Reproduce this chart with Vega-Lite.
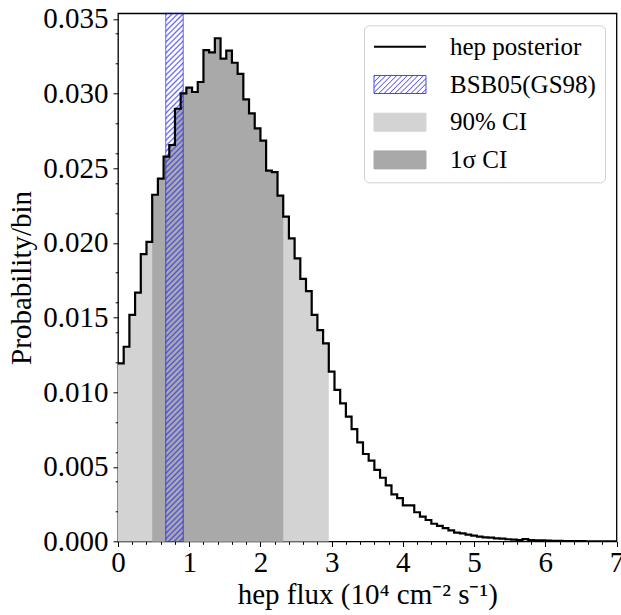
{
  "$schema": "https://vega.github.io/schema/vega-lite/v6.json",
  "width": 498.5,
  "height": 528.2,
  "autosize": {"type": "none"},
  "padding": {"left": 118, "top": 13.3, "right": 4.5, "bottom": 73.5},
  "background": "white",
  "config": {
    "view": {"stroke": "black", "strokeWidth": 1.3},
    "font": "Liberation Serif",
    "axis": {
      "labelFont": "Liberation Serif",
      "titleFont": "Liberation Serif",
      "labelColor": "black",
      "titleColor": "black",
      "tickColor": "black",
      "titleFontWeight": "normal",
      "domain": false,
      "grid": false,
      "labelFlush": false,
      "tickWidth": 1,
      "tickSize": 5
    }
  },
  "resolve": {"axis": {"x": "independent", "y": "independent"}},
  "datasets": {
    "hist": [
      {"x": 0, "p": 0.01193}, {"x": 0.08, "p": 0.01304}, {"x": 0.16, "p": 0.01517}, {"x": 0.24, "p": 0.01666},
      {"x": 0.32, "p": 0.01925}, {"x": 0.4, "p": 0.02006}, {"x": 0.48, "p": 0.02322}, {"x": 0.56, "p": 0.0243},
      {"x": 0.64, "p": 0.02577}, {"x": 0.72, "p": 0.02655}, {"x": 0.8, "p": 0.02898}, {"x": 0.88, "p": 0.03001},
      {"x": 0.96, "p": 0.03039}, {"x": 1.04, "p": 0.0301}, {"x": 1.12, "p": 0.03077}, {"x": 1.2, "p": 0.03291},
      {"x": 1.28, "p": 0.03276}, {"x": 1.36, "p": 0.0337}, {"x": 1.44, "p": 0.03233}, {"x": 1.52, "p": 0.03287},
      {"x": 1.6, "p": 0.03206}, {"x": 1.68, "p": 0.03131}, {"x": 1.76, "p": 0.02961}, {"x": 1.84, "p": 0.02867},
      {"x": 1.92, "p": 0.02767}, {"x": 2, "p": 0.02684}, {"x": 2.08, "p": 0.02483}, {"x": 2.16, "p": 0.02474},
      {"x": 2.24, "p": 0.02316}, {"x": 2.32, "p": 0.02175}, {"x": 2.4, "p": 0.0203}, {"x": 2.48, "p": 0.01896},
      {"x": 2.56, "p": 0.01758}, {"x": 2.64, "p": 0.01677}, {"x": 2.72, "p": 0.01517}, {"x": 2.8, "p": 0.01416},
      {"x": 2.88, "p": 0.01327}, {"x": 2.96, "p": 0.01137}, {"x": 3.04, "p": 0.01015}, {"x": 3.12, "p": 0.00925},
      {"x": 3.2, "p": 0.00836}, {"x": 3.28, "p": 0.00753}, {"x": 3.36, "p": 0.00664}, {"x": 3.44, "p": 0.00586},
      {"x": 3.52, "p": 0.00541}, {"x": 3.6, "p": 0.00479}, {"x": 3.68, "p": 0.00427}, {"x": 3.76, "p": 0.00376},
      {"x": 3.84, "p": 0.00316}, {"x": 3.92, "p": 0.00291}, {"x": 4, "p": 0.00242}, {"x": 4.08, "p": 0.00242},
      {"x": 4.16, "p": 0.00196}, {"x": 4.24, "p": 0.00166}, {"x": 4.32, "p": 0.00144}, {"x": 4.4, "p": 0.00119},
      {"x": 4.48, "p": 0.00104}, {"x": 4.56, "p": 0.0009}, {"x": 4.64, "p": 0.00075}, {"x": 4.72, "p": 0.00059},
      {"x": 4.8, "p": 0.00055}, {"x": 4.88, "p": 0.00046}, {"x": 4.96, "p": 0.0004}, {"x": 5.04, "p": 0.00032},
      {"x": 5.12, "p": 0.00028}, {"x": 5.2, "p": 0.00026}, {"x": 5.28, "p": 0.00021}, {"x": 5.36, "p": 0.00019},
      {"x": 5.44, "p": 0.00015}, {"x": 5.52, "p": 0.00012}, {"x": 5.6, "p": 0.0001}, {"x": 5.68, "p": 0.00016},
      {"x": 5.76, "p": 0.0001}, {"x": 5.84, "p": 0.00008}, {"x": 5.92, "p": 0.00007}, {"x": 6, "p": 0.00006},
      {"x": 6.08, "p": 0.00005}, {"x": 6.16, "p": 0.00004}, {"x": 6.24, "p": 0.00003}, {"x": 6.32, "p": 0.00003},
      {"x": 6.4, "p": 0.00002}, {"x": 6.48, "p": 0.00002}, {"x": 6.56, "p": 0.00001}, {"x": 6.64, "p": 0.00001},
      {"x": 6.72, "p": 0.00001}, {"x": 6.8, "p": 0.00001}, {"x": 6.88, "p": 0.000005}, {"x": 6.96, "p": 0.000005},
      {"x": 7.04, "p": 0.000005}
    ],
    "band": [{"x": 0.67, "x2": 0.916}]
  },
  "layer": [
    {
      "data": {"name": "hist"},
      "transform": [{"filter": "datum.x <= 2.96"}],
      "mark": {"type": "area", "interpolate": "step-after", "color": "#d3d3d3"},
      "encoding": {
        "x": {
          "field": "x", "type": "quantitative",
          "scale": {"domain": [0, 7], "nice": false, "zero": false},
          "axis": {
            "title": "hep flux (10⁴ cm⁻² s⁻¹)",
            "orient": "bottom",
            "values": [0, 1, 2, 3, 4, 5, 6, 7],
            "format": "d",
            "labelOverlap": false,
            "labelBound": false,
            "labelFontSize": 29,
            "titleFontSize": 29,
            "labelPadding": 2,
            "titlePadding": 3
          }
        },
        "y": {
          "field": "p", "type": "quantitative",
          "scale": {"domain": [0, 0.03537], "nice": false},
          "axis": {
            "title": "Probability/bin",
            "orient": "left",
            "values": [0, 0.005, 0.01, 0.015, 0.02, 0.025, 0.03, 0.035],
            "format": ".3f",
            "labelOverlap": false,
            "labelBound": false,
            "labelFontSize": 29,
            "titleFontSize": 29,
            "labelPadding": 5,
            "titlePadding": 6
          }
        }
      }
    },
    {
      "data": {"name": "hist"},
      "transform": [{"filter": "datum.x >= 0.48 && datum.x <= 2.32"}],
      "mark": {"type": "area", "interpolate": "step-after", "color": "#a9a9a9"},
      "encoding": {
        "x": {"field": "x", "type": "quantitative", "axis": null},
        "y": {"field": "p", "type": "quantitative", "axis": null}
      }
    },
    {
      "data": {"name": "band"},
      "mark": {
        "type": "rect",
        "stroke": "#0000ff",
        "strokeOpacity": 0.5,
        "strokeWidth": 1.2,
        "fill": {"gradient": "linear", "x1": 0, "y1": 0, "x2": 0.0342, "y2": 1.032, "stops": [
{"offset":0,"color":"rgba(0,0,255,0)"},{"offset":0.003,"color":"rgba(50,50,255,0.75)"},{"offset":0.006,"color":"rgba(0,0,255,0)"},
{"offset":0.01,"color":"rgba(0,0,255,0)"},{"offset":0.013,"color":"rgba(50,50,255,0.75)"},{"offset":0.016,"color":"rgba(0,0,255,0)"},
{"offset":0.02,"color":"rgba(0,0,255,0)"},{"offset":0.023,"color":"rgba(50,50,255,0.75)"},{"offset":0.026,"color":"rgba(0,0,255,0)"},
{"offset":0.03,"color":"rgba(0,0,255,0)"},{"offset":0.033,"color":"rgba(50,50,255,0.75)"},{"offset":0.036,"color":"rgba(0,0,255,0)"},
{"offset":0.04,"color":"rgba(0,0,255,0)"},{"offset":0.043,"color":"rgba(50,50,255,0.75)"},{"offset":0.046,"color":"rgba(0,0,255,0)"},
{"offset":0.05,"color":"rgba(0,0,255,0)"},{"offset":0.053,"color":"rgba(50,50,255,0.75)"},{"offset":0.056,"color":"rgba(0,0,255,0)"},
{"offset":0.06,"color":"rgba(0,0,255,0)"},{"offset":0.063,"color":"rgba(50,50,255,0.75)"},{"offset":0.066,"color":"rgba(0,0,255,0)"},
{"offset":0.07,"color":"rgba(0,0,255,0)"},{"offset":0.073,"color":"rgba(50,50,255,0.75)"},{"offset":0.076,"color":"rgba(0,0,255,0)"},
{"offset":0.08,"color":"rgba(0,0,255,0)"},{"offset":0.083,"color":"rgba(50,50,255,0.75)"},{"offset":0.086,"color":"rgba(0,0,255,0)"},
{"offset":0.09,"color":"rgba(0,0,255,0)"},{"offset":0.093,"color":"rgba(50,50,255,0.75)"},{"offset":0.096,"color":"rgba(0,0,255,0)"},
{"offset":0.1,"color":"rgba(0,0,255,0)"},{"offset":0.103,"color":"rgba(50,50,255,0.75)"},{"offset":0.106,"color":"rgba(0,0,255,0)"},
{"offset":0.11,"color":"rgba(0,0,255,0)"},{"offset":0.113,"color":"rgba(50,50,255,0.75)"},{"offset":0.116,"color":"rgba(0,0,255,0)"},
{"offset":0.12,"color":"rgba(0,0,255,0)"},{"offset":0.123,"color":"rgba(50,50,255,0.75)"},{"offset":0.126,"color":"rgba(0,0,255,0)"},
{"offset":0.13,"color":"rgba(0,0,255,0)"},{"offset":0.133,"color":"rgba(50,50,255,0.75)"},{"offset":0.136,"color":"rgba(0,0,255,0)"},
{"offset":0.14,"color":"rgba(0,0,255,0)"},{"offset":0.143,"color":"rgba(50,50,255,0.75)"},{"offset":0.146,"color":"rgba(0,0,255,0)"},
{"offset":0.15,"color":"rgba(0,0,255,0)"},{"offset":0.153,"color":"rgba(50,50,255,0.75)"},{"offset":0.156,"color":"rgba(0,0,255,0)"},
{"offset":0.16,"color":"rgba(0,0,255,0)"},{"offset":0.163,"color":"rgba(50,50,255,0.75)"},{"offset":0.166,"color":"rgba(0,0,255,0)"},
{"offset":0.17,"color":"rgba(0,0,255,0)"},{"offset":0.173,"color":"rgba(50,50,255,0.75)"},{"offset":0.176,"color":"rgba(0,0,255,0)"},
{"offset":0.18,"color":"rgba(0,0,255,0)"},{"offset":0.183,"color":"rgba(50,50,255,0.75)"},{"offset":0.186,"color":"rgba(0,0,255,0)"},
{"offset":0.19,"color":"rgba(0,0,255,0)"},{"offset":0.193,"color":"rgba(50,50,255,0.75)"},{"offset":0.196,"color":"rgba(0,0,255,0)"},
{"offset":0.2,"color":"rgba(0,0,255,0)"},{"offset":0.203,"color":"rgba(50,50,255,0.75)"},{"offset":0.206,"color":"rgba(0,0,255,0)"},
{"offset":0.21,"color":"rgba(0,0,255,0)"},{"offset":0.213,"color":"rgba(50,50,255,0.75)"},{"offset":0.216,"color":"rgba(0,0,255,0)"},
{"offset":0.22,"color":"rgba(0,0,255,0)"},{"offset":0.223,"color":"rgba(50,50,255,0.75)"},{"offset":0.226,"color":"rgba(0,0,255,0)"},
{"offset":0.23,"color":"rgba(0,0,255,0)"},{"offset":0.233,"color":"rgba(50,50,255,0.75)"},{"offset":0.236,"color":"rgba(0,0,255,0)"},
{"offset":0.24,"color":"rgba(0,0,255,0)"},{"offset":0.243,"color":"rgba(50,50,255,0.75)"},{"offset":0.246,"color":"rgba(0,0,255,0)"},
{"offset":0.25,"color":"rgba(0,0,255,0)"},{"offset":0.253,"color":"rgba(50,50,255,0.75)"},{"offset":0.256,"color":"rgba(0,0,255,0)"},
{"offset":0.26,"color":"rgba(0,0,255,0)"},{"offset":0.263,"color":"rgba(50,50,255,0.75)"},{"offset":0.266,"color":"rgba(0,0,255,0)"},
{"offset":0.27,"color":"rgba(0,0,255,0)"},{"offset":0.273,"color":"rgba(50,50,255,0.75)"},{"offset":0.276,"color":"rgba(0,0,255,0)"},
{"offset":0.28,"color":"rgba(0,0,255,0)"},{"offset":0.283,"color":"rgba(50,50,255,0.75)"},{"offset":0.286,"color":"rgba(0,0,255,0)"},
{"offset":0.29,"color":"rgba(0,0,255,0)"},{"offset":0.293,"color":"rgba(50,50,255,0.75)"},{"offset":0.296,"color":"rgba(0,0,255,0)"},
{"offset":0.3,"color":"rgba(0,0,255,0)"},{"offset":0.303,"color":"rgba(50,50,255,0.75)"},{"offset":0.306,"color":"rgba(0,0,255,0)"},
{"offset":0.31,"color":"rgba(0,0,255,0)"},{"offset":0.313,"color":"rgba(50,50,255,0.75)"},{"offset":0.316,"color":"rgba(0,0,255,0)"},
{"offset":0.32,"color":"rgba(0,0,255,0)"},{"offset":0.323,"color":"rgba(50,50,255,0.75)"},{"offset":0.326,"color":"rgba(0,0,255,0)"},
{"offset":0.33,"color":"rgba(0,0,255,0)"},{"offset":0.333,"color":"rgba(50,50,255,0.75)"},{"offset":0.336,"color":"rgba(0,0,255,0)"},
{"offset":0.34,"color":"rgba(0,0,255,0)"},{"offset":0.343,"color":"rgba(50,50,255,0.75)"},{"offset":0.346,"color":"rgba(0,0,255,0)"},
{"offset":0.35,"color":"rgba(0,0,255,0)"},{"offset":0.353,"color":"rgba(50,50,255,0.75)"},{"offset":0.356,"color":"rgba(0,0,255,0)"},
{"offset":0.36,"color":"rgba(0,0,255,0)"},{"offset":0.363,"color":"rgba(50,50,255,0.75)"},{"offset":0.366,"color":"rgba(0,0,255,0)"},
{"offset":0.37,"color":"rgba(0,0,255,0)"},{"offset":0.373,"color":"rgba(50,50,255,0.75)"},{"offset":0.376,"color":"rgba(0,0,255,0)"},
{"offset":0.38,"color":"rgba(0,0,255,0)"},{"offset":0.383,"color":"rgba(50,50,255,0.75)"},{"offset":0.386,"color":"rgba(0,0,255,0)"},
{"offset":0.39,"color":"rgba(0,0,255,0)"},{"offset":0.393,"color":"rgba(50,50,255,0.75)"},{"offset":0.396,"color":"rgba(0,0,255,0)"},
{"offset":0.4,"color":"rgba(0,0,255,0)"},{"offset":0.403,"color":"rgba(50,50,255,0.75)"},{"offset":0.406,"color":"rgba(0,0,255,0)"},
{"offset":0.41,"color":"rgba(0,0,255,0)"},{"offset":0.413,"color":"rgba(50,50,255,0.75)"},{"offset":0.416,"color":"rgba(0,0,255,0)"},
{"offset":0.42,"color":"rgba(0,0,255,0)"},{"offset":0.423,"color":"rgba(50,50,255,0.75)"},{"offset":0.426,"color":"rgba(0,0,255,0)"},
{"offset":0.43,"color":"rgba(0,0,255,0)"},{"offset":0.433,"color":"rgba(50,50,255,0.75)"},{"offset":0.436,"color":"rgba(0,0,255,0)"},
{"offset":0.44,"color":"rgba(0,0,255,0)"},{"offset":0.443,"color":"rgba(50,50,255,0.75)"},{"offset":0.446,"color":"rgba(0,0,255,0)"},
{"offset":0.45,"color":"rgba(0,0,255,0)"},{"offset":0.453,"color":"rgba(50,50,255,0.75)"},{"offset":0.456,"color":"rgba(0,0,255,0)"},
{"offset":0.46,"color":"rgba(0,0,255,0)"},{"offset":0.463,"color":"rgba(50,50,255,0.75)"},{"offset":0.466,"color":"rgba(0,0,255,0)"},
{"offset":0.47,"color":"rgba(0,0,255,0)"},{"offset":0.473,"color":"rgba(50,50,255,0.75)"},{"offset":0.476,"color":"rgba(0,0,255,0)"},
{"offset":0.48,"color":"rgba(0,0,255,0)"},{"offset":0.483,"color":"rgba(50,50,255,0.75)"},{"offset":0.486,"color":"rgba(0,0,255,0)"},
{"offset":0.49,"color":"rgba(0,0,255,0)"},{"offset":0.493,"color":"rgba(50,50,255,0.75)"},{"offset":0.496,"color":"rgba(0,0,255,0)"},
{"offset":0.5,"color":"rgba(0,0,255,0)"},{"offset":0.503,"color":"rgba(50,50,255,0.75)"},{"offset":0.506,"color":"rgba(0,0,255,0)"},
{"offset":0.51,"color":"rgba(0,0,255,0)"},{"offset":0.513,"color":"rgba(50,50,255,0.75)"},{"offset":0.516,"color":"rgba(0,0,255,0)"},
{"offset":0.52,"color":"rgba(0,0,255,0)"},{"offset":0.523,"color":"rgba(50,50,255,0.75)"},{"offset":0.526,"color":"rgba(0,0,255,0)"},
{"offset":0.53,"color":"rgba(0,0,255,0)"},{"offset":0.533,"color":"rgba(50,50,255,0.75)"},{"offset":0.536,"color":"rgba(0,0,255,0)"},
{"offset":0.54,"color":"rgba(0,0,255,0)"},{"offset":0.543,"color":"rgba(50,50,255,0.75)"},{"offset":0.546,"color":"rgba(0,0,255,0)"},
{"offset":0.55,"color":"rgba(0,0,255,0)"},{"offset":0.553,"color":"rgba(50,50,255,0.75)"},{"offset":0.556,"color":"rgba(0,0,255,0)"},
{"offset":0.56,"color":"rgba(0,0,255,0)"},{"offset":0.563,"color":"rgba(50,50,255,0.75)"},{"offset":0.566,"color":"rgba(0,0,255,0)"},
{"offset":0.57,"color":"rgba(0,0,255,0)"},{"offset":0.573,"color":"rgba(50,50,255,0.75)"},{"offset":0.576,"color":"rgba(0,0,255,0)"},
{"offset":0.58,"color":"rgba(0,0,255,0)"},{"offset":0.583,"color":"rgba(50,50,255,0.75)"},{"offset":0.586,"color":"rgba(0,0,255,0)"},
{"offset":0.59,"color":"rgba(0,0,255,0)"},{"offset":0.593,"color":"rgba(50,50,255,0.75)"},{"offset":0.596,"color":"rgba(0,0,255,0)"},
{"offset":0.6,"color":"rgba(0,0,255,0)"},{"offset":0.603,"color":"rgba(50,50,255,0.75)"},{"offset":0.606,"color":"rgba(0,0,255,0)"},
{"offset":0.61,"color":"rgba(0,0,255,0)"},{"offset":0.613,"color":"rgba(50,50,255,0.75)"},{"offset":0.616,"color":"rgba(0,0,255,0)"},
{"offset":0.62,"color":"rgba(0,0,255,0)"},{"offset":0.623,"color":"rgba(50,50,255,0.75)"},{"offset":0.626,"color":"rgba(0,0,255,0)"},
{"offset":0.63,"color":"rgba(0,0,255,0)"},{"offset":0.633,"color":"rgba(50,50,255,0.75)"},{"offset":0.636,"color":"rgba(0,0,255,0)"},
{"offset":0.64,"color":"rgba(0,0,255,0)"},{"offset":0.643,"color":"rgba(50,50,255,0.75)"},{"offset":0.646,"color":"rgba(0,0,255,0)"},
{"offset":0.65,"color":"rgba(0,0,255,0)"},{"offset":0.653,"color":"rgba(50,50,255,0.75)"},{"offset":0.656,"color":"rgba(0,0,255,0)"},
{"offset":0.66,"color":"rgba(0,0,255,0)"},{"offset":0.663,"color":"rgba(50,50,255,0.75)"},{"offset":0.666,"color":"rgba(0,0,255,0)"},
{"offset":0.67,"color":"rgba(0,0,255,0)"},{"offset":0.673,"color":"rgba(50,50,255,0.75)"},{"offset":0.676,"color":"rgba(0,0,255,0)"},
{"offset":0.68,"color":"rgba(0,0,255,0)"},{"offset":0.683,"color":"rgba(50,50,255,0.75)"},{"offset":0.686,"color":"rgba(0,0,255,0)"},
{"offset":0.69,"color":"rgba(0,0,255,0)"},{"offset":0.693,"color":"rgba(50,50,255,0.75)"},{"offset":0.696,"color":"rgba(0,0,255,0)"},
{"offset":0.7,"color":"rgba(0,0,255,0)"},{"offset":0.703,"color":"rgba(50,50,255,0.75)"},{"offset":0.706,"color":"rgba(0,0,255,0)"},
{"offset":0.71,"color":"rgba(0,0,255,0)"},{"offset":0.713,"color":"rgba(50,50,255,0.75)"},{"offset":0.716,"color":"rgba(0,0,255,0)"},
{"offset":0.72,"color":"rgba(0,0,255,0)"},{"offset":0.723,"color":"rgba(50,50,255,0.75)"},{"offset":0.726,"color":"rgba(0,0,255,0)"},
{"offset":0.73,"color":"rgba(0,0,255,0)"},{"offset":0.733,"color":"rgba(50,50,255,0.75)"},{"offset":0.736,"color":"rgba(0,0,255,0)"},
{"offset":0.74,"color":"rgba(0,0,255,0)"},{"offset":0.743,"color":"rgba(50,50,255,0.75)"},{"offset":0.746,"color":"rgba(0,0,255,0)"},
{"offset":0.75,"color":"rgba(0,0,255,0)"},{"offset":0.753,"color":"rgba(50,50,255,0.75)"},{"offset":0.756,"color":"rgba(0,0,255,0)"},
{"offset":0.76,"color":"rgba(0,0,255,0)"},{"offset":0.763,"color":"rgba(50,50,255,0.75)"},{"offset":0.766,"color":"rgba(0,0,255,0)"},
{"offset":0.77,"color":"rgba(0,0,255,0)"},{"offset":0.773,"color":"rgba(50,50,255,0.75)"},{"offset":0.776,"color":"rgba(0,0,255,0)"},
{"offset":0.78,"color":"rgba(0,0,255,0)"},{"offset":0.783,"color":"rgba(50,50,255,0.75)"},{"offset":0.786,"color":"rgba(0,0,255,0)"},
{"offset":0.79,"color":"rgba(0,0,255,0)"},{"offset":0.793,"color":"rgba(50,50,255,0.75)"},{"offset":0.796,"color":"rgba(0,0,255,0)"},
{"offset":0.8,"color":"rgba(0,0,255,0)"},{"offset":0.803,"color":"rgba(50,50,255,0.75)"},{"offset":0.806,"color":"rgba(0,0,255,0)"},
{"offset":0.81,"color":"rgba(0,0,255,0)"},{"offset":0.813,"color":"rgba(50,50,255,0.75)"},{"offset":0.816,"color":"rgba(0,0,255,0)"},
{"offset":0.82,"color":"rgba(0,0,255,0)"},{"offset":0.823,"color":"rgba(50,50,255,0.75)"},{"offset":0.826,"color":"rgba(0,0,255,0)"},
{"offset":0.83,"color":"rgba(0,0,255,0)"},{"offset":0.833,"color":"rgba(50,50,255,0.75)"},{"offset":0.836,"color":"rgba(0,0,255,0)"},
{"offset":0.84,"color":"rgba(0,0,255,0)"},{"offset":0.843,"color":"rgba(50,50,255,0.75)"},{"offset":0.846,"color":"rgba(0,0,255,0)"},
{"offset":0.85,"color":"rgba(0,0,255,0)"},{"offset":0.853,"color":"rgba(50,50,255,0.75)"},{"offset":0.856,"color":"rgba(0,0,255,0)"},
{"offset":0.86,"color":"rgba(0,0,255,0)"},{"offset":0.863,"color":"rgba(50,50,255,0.75)"},{"offset":0.866,"color":"rgba(0,0,255,0)"},
{"offset":0.87,"color":"rgba(0,0,255,0)"},{"offset":0.873,"color":"rgba(50,50,255,0.75)"},{"offset":0.876,"color":"rgba(0,0,255,0)"},
{"offset":0.88,"color":"rgba(0,0,255,0)"},{"offset":0.883,"color":"rgba(50,50,255,0.75)"},{"offset":0.886,"color":"rgba(0,0,255,0)"},
{"offset":0.89,"color":"rgba(0,0,255,0)"},{"offset":0.893,"color":"rgba(50,50,255,0.75)"},{"offset":0.896,"color":"rgba(0,0,255,0)"},
{"offset":0.9,"color":"rgba(0,0,255,0)"},{"offset":0.903,"color":"rgba(50,50,255,0.75)"},{"offset":0.906,"color":"rgba(0,0,255,0)"},
{"offset":0.91,"color":"rgba(0,0,255,0)"},{"offset":0.913,"color":"rgba(50,50,255,0.75)"},{"offset":0.916,"color":"rgba(0,0,255,0)"},
{"offset":0.92,"color":"rgba(0,0,255,0)"},{"offset":0.923,"color":"rgba(50,50,255,0.75)"},{"offset":0.926,"color":"rgba(0,0,255,0)"},
{"offset":0.93,"color":"rgba(0,0,255,0)"},{"offset":0.933,"color":"rgba(50,50,255,0.75)"},{"offset":0.936,"color":"rgba(0,0,255,0)"},
{"offset":0.94,"color":"rgba(0,0,255,0)"},{"offset":0.943,"color":"rgba(50,50,255,0.75)"},{"offset":0.946,"color":"rgba(0,0,255,0)"},
{"offset":0.95,"color":"rgba(0,0,255,0)"},{"offset":0.953,"color":"rgba(50,50,255,0.75)"},{"offset":0.956,"color":"rgba(0,0,255,0)"},
{"offset":0.96,"color":"rgba(0,0,255,0)"},{"offset":0.963,"color":"rgba(50,50,255,0.75)"},{"offset":0.966,"color":"rgba(0,0,255,0)"},
{"offset":0.97,"color":"rgba(0,0,255,0)"},{"offset":0.973,"color":"rgba(50,50,255,0.75)"},{"offset":0.976,"color":"rgba(0,0,255,0)"},
{"offset":0.98,"color":"rgba(0,0,255,0)"},{"offset":0.983,"color":"rgba(50,50,255,0.75)"},{"offset":0.986,"color":"rgba(0,0,255,0)"},
{"offset":0.99,"color":"rgba(0,0,255,0)"},{"offset":0.993,"color":"rgba(50,50,255,0.75)"},{"offset":0.996,"color":"rgba(0,0,255,0)"},
{"offset":1,"color":"rgba(0,0,255,0)"}
        ]}
      },
      "encoding": {
        "x": {"field": "x", "type": "quantitative", "axis": null},
        "x2": {"field": "x2"}
      }
    },
    {
      "data": {"name": "hist"},
      "mark": {"type": "line", "interpolate": "step-after", "strokeWidth": 2.2, "clip": true},
      "encoding": {
        "x": {"field": "x", "type": "quantitative", "axis": null},
        "y": {"field": "p", "type": "quantitative", "axis": null},
        "color": {
          "datum": "hep posterior",
          "type": "nominal",
          "scale": {
            "domain": ["hep posterior", "BSB05(GS98)", "90% CI", "1σ CI"],
            "range": ["black", "#4444ff", "#d3d3d3", "#a9a9a9"]
          },
          "legend": {
            "title": null,
            "orient": "top-right",
            "offset": 12,
            "padding": 9,
            "strokeColor": "#d0d0d0",
            "fillColor": "rgba(255,255,255,0.85)",
            "cornerRadius": 5,
            "labelFont": "Liberation Serif",
            "labelFontSize": 25,
            "labelColor": "black",
            "labelLimit": 400,
            "labelOffset": 52,
            "rowPadding": 11.7,
            "encode": {
              "symbols": {
                "update": {
                  "shape": {"signal": "datum.label === 'hep posterior' ? 'M-1.0,0H3.52' : 'M-1.0,-0.783H3.52V0.783H-1.0Z'"},
                  "size": {"value": 529},
                  "fill": [
                    {"test": "datum.label === 'BSB05(GS98)'", "value": {"gradient": "linear", "x1": 0, "y1": 0, "x2": 1.202, "y2": 0.416, "stops": [
                      {"offset":0,"color":"rgba(0,0,255,0)"},{"offset":0.016,"color":"rgba(50,50,255,0.8)"},{"offset":0.032,"color":"rgba(0,0,255,0)"},
                      {"offset":0.077,"color":"rgba(0,0,255,0)"},{"offset":0.093,"color":"rgba(50,50,255,0.8)"},{"offset":0.109,"color":"rgba(0,0,255,0)"},
                      {"offset":0.154,"color":"rgba(0,0,255,0)"},{"offset":0.17,"color":"rgba(50,50,255,0.8)"},{"offset":0.186,"color":"rgba(0,0,255,0)"},
                      {"offset":0.231,"color":"rgba(0,0,255,0)"},{"offset":0.247,"color":"rgba(50,50,255,0.8)"},{"offset":0.263,"color":"rgba(0,0,255,0)"},
                      {"offset":0.308,"color":"rgba(0,0,255,0)"},{"offset":0.324,"color":"rgba(50,50,255,0.8)"},{"offset":0.34,"color":"rgba(0,0,255,0)"},
                      {"offset":0.385,"color":"rgba(0,0,255,0)"},{"offset":0.401,"color":"rgba(50,50,255,0.8)"},{"offset":0.417,"color":"rgba(0,0,255,0)"},
                      {"offset":0.462,"color":"rgba(0,0,255,0)"},{"offset":0.478,"color":"rgba(50,50,255,0.8)"},{"offset":0.494,"color":"rgba(0,0,255,0)"},
                      {"offset":0.538,"color":"rgba(0,0,255,0)"},{"offset":0.554,"color":"rgba(50,50,255,0.8)"},{"offset":0.57,"color":"rgba(0,0,255,0)"},
                      {"offset":0.615,"color":"rgba(0,0,255,0)"},{"offset":0.631,"color":"rgba(50,50,255,0.8)"},{"offset":0.647,"color":"rgba(0,0,255,0)"},
                      {"offset":0.692,"color":"rgba(0,0,255,0)"},{"offset":0.708,"color":"rgba(50,50,255,0.8)"},{"offset":0.724,"color":"rgba(0,0,255,0)"},
                      {"offset":0.769,"color":"rgba(0,0,255,0)"},{"offset":0.785,"color":"rgba(50,50,255,0.8)"},{"offset":0.801,"color":"rgba(0,0,255,0)"},
                      {"offset":0.846,"color":"rgba(0,0,255,0)"},{"offset":0.862,"color":"rgba(50,50,255,0.8)"},{"offset":0.878,"color":"rgba(0,0,255,0)"},
                      {"offset":0.923,"color":"rgba(0,0,255,0)"},{"offset":0.939,"color":"rgba(50,50,255,0.8)"},{"offset":0.955,"color":"rgba(0,0,255,0)"},
                      {"offset":1,"color":"rgba(0,0,255,0)"}
                    ]}},
                    {"test": "datum.label === '90% CI'", "value": "#d3d3d3"},
                    {"test": "datum.label === '1σ CI'", "value": "#a9a9a9"},
                    {"value": "transparent"}
                  ],
                  "strokeWidth": {"signal": "datum.label === 'hep posterior' ? 2 : 1"},
                  "opacity": {"value": 1}
                }
              }
            }
          }
        }
      }
    },
    {
      "data": {"name": "hist"},
      "mark": {"type": "point", "opacity": 0},
      "encoding": {
        "x": {
          "field": "x", "type": "quantitative",
          "axis": {
            "orient": "bottom",
            "values": [0.2, 0.4, 0.6, 0.8, 1.2, 1.4, 1.6, 1.8, 2.2, 2.4, 2.6, 2.8, 3.2, 3.4, 3.6, 3.8, 4.2, 4.4, 4.6, 4.8, 5.2, 5.4, 5.6, 5.8, 6.2, 6.4, 6.6, 6.8],
            "labels": false,
            "title": null,
            "tickSize": 2.8
          }
        },
        "y": {
          "field": "p", "type": "quantitative",
          "axis": {
            "orient": "left",
            "values": [0.002, 0.004, 0.006, 0.008, 0.012, 0.014, 0.016, 0.018, 0.022, 0.024, 0.026, 0.028, 0.032, 0.034],
            "labels": false,
            "title": null,
            "tickSize": 2.8
          }
        }
      }
    }
  ]
}
